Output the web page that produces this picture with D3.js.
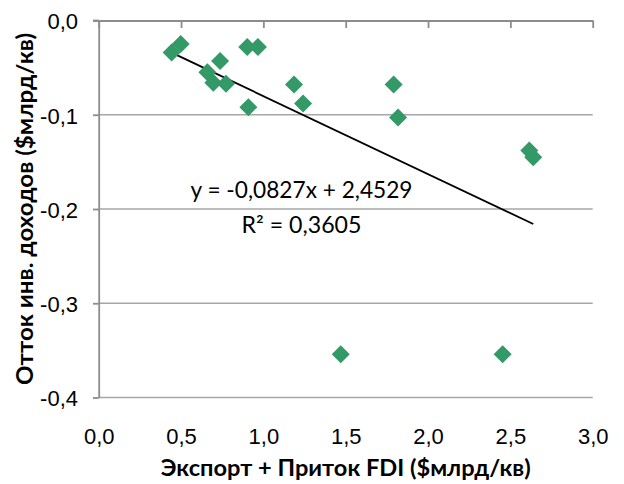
<!DOCTYPE html>
<html>
<head>
<meta charset="utf-8">
<script src="https://cdn.jsdelivr.net/npm/d3@7"></script>
<style>
  html, body { margin: 0; padding: 0; background: #fff; }
  svg { display: block; }
</style>
</head>
<body>
<svg id="chart" width="624" height="484"></svg>
<script>
// ---- data ----
const pointsX = [0.443, 0.498, 0.737, 0.660, 0.696, 0.773, 0.902, 0.967, 0.909, 1.186, 1.241, 1.791, 1.818, 2.615, 2.639, 1.470, 2.453];
const pointsY = [-0.034, -0.025, -0.043, -0.055, -0.066, -0.067, -0.028, -0.028, -0.092, -0.068, -0.088, -0.068, -0.103, -0.138, -0.145, -0.354, -0.354];
const xTicks = [0, 0.5, 1.0, 1.5, 2.0, 2.5, 3.0];
const yTicks = [0, -0.1, -0.2, -0.3, -0.4];
const trendSlope = -0.0828;
const trendIntercept = 0.0026;
const equationText = "y = -0,0827x + 2,4529";
const r2Text = "R² = 0,3605";
const xTitle = "Экспорт + Приток  FDI ($млрд/кв)";
const yTitle = "Отток инв.  доходов ($млрд/кв)";

// ---- layout ----
const svg = d3.select("#chart");
const x = d3.scaleLinear().domain([0, 3]).range([98.7, 592.7]);
const y = d3.scaleLinear().domain([0, -0.4]).range([20.5, 397.5]);

const loc = d3.formatLocale({decimal: ",", thousands: " ", grouping: [3], currency: ["", ""], minus: "-"});
const fmt = loc.format(".1f");

const gridColor = "#a6a6a6";
const axisColor = "#8c8c8c";
const tickFont = "'Liberation Sans', Arial, sans-serif";
const textFont = "Lato, 'Open Sans', sans-serif";

// horizontal gridlines (below 0)
svg.append("g")
  .selectAll("line")
  .data(yTicks.filter(d => d !== 0))
  .join("line")
  .attr("x1", x(0)).attr("x2", x(3))
  .attr("y1", d => y(d)).attr("y2", d => y(d))
  .attr("stroke", gridColor).attr("stroke-width", 1.6);

// x axis line at y = 0, ticks pointing into the plot
const xAxisTop = svg.append("g")
  .attr("transform", `translate(0,${y(0)})`)
  .call(d3.axisBottom(x).tickValues(xTicks).tickSizeInner(7.5).tickSizeOuter(0).tickFormat(""));
xAxisTop.select(".domain").attr("stroke", axisColor).attr("stroke-width", 1.8);
xAxisTop.selectAll(".tick line").attr("stroke", axisColor).attr("stroke-width", 1.8);
xAxisTop.append("line").attr("x1", x(0) - 5.7).attr("x2", x(0)).attr("y1", 0).attr("y2", 0)
  .attr("stroke", axisColor).attr("stroke-width", 1.8);

// y axis
const yAxis = svg.append("g")
  .attr("transform", `translate(${x(0)},0)`)
  .call(d3.axisLeft(y).tickValues(yTicks).tickSizeInner(5.7).tickSizeOuter(0).tickPadding(15).tickFormat(fmt));
yAxis.select(".domain").attr("stroke", axisColor).attr("stroke-width", 1.8);
yAxis.selectAll(".tick line").attr("stroke", axisColor).attr("stroke-width", 1.8);
yAxis.selectAll(".tick text")
  .attr("font-family", tickFont).attr("font-size", 22).attr("fill", "#000").attr("dy", "0.38em");

// x tick labels at the bottom
const xAxisBottom = svg.append("g")
  .attr("transform", `translate(0,${y(-0.4)})`)
  .call(d3.axisBottom(x).tickValues(xTicks).tickSize(0).tickPadding(31).tickFormat(fmt));
xAxisBottom.select(".domain").remove();
xAxisBottom.selectAll(".tick text")
  .attr("font-family", tickFont).attr("font-size", 22).attr("fill", "#000");

// trend line
const xExt = d3.extent(pointsX);
svg.append("line")
  .attr("x1", x(xExt[0])).attr("y1", y(trendSlope * xExt[0] + trendIntercept))
  .attr("x2", x(xExt[1])).attr("y2", y(trendSlope * xExt[1] + trendIntercept))
  .attr("stroke", "#000").attr("stroke-width", 1.8);

// points (diamonds)
const diamond = d3.symbol().type(d3.symbolSquare).size(162);
svg.append("g")
  .selectAll("path")
  .data(pointsX.map((v, i) => [v, pointsY[i]]))
  .join("path")
  .attr("d", diamond)
  .attr("transform", d => `translate(${x(d[0])},${y(d[1])}) rotate(45)`)
  .attr("fill", "#339966");

// trend equation text
svg.append("text")
  .attr("x", 190.5).attr("y", 198)
  .attr("font-family", textFont).attr("font-size", 22.5)
  .attr("textLength", 222).attr("lengthAdjust", "spacingAndGlyphs")
  .text(equationText);
svg.append("text")
  .attr("x", 241.5).attr("y", 233)
  .attr("font-family", textFont).attr("font-size", 22.5)
  .attr("textLength", 120).attr("lengthAdjust", "spacingAndGlyphs")
  .text(r2Text);

// axis titles
svg.append("text")
  .attr("x", (x(0) + x(3)) / 2).attr("y", 476)
  .attr("text-anchor", "middle")
  .attr("font-family", textFont).attr("font-size", 23).attr("font-weight", "bold")
  .attr("textLength", 370).attr("lengthAdjust", "spacingAndGlyphs")
  .text(xTitle);
svg.append("text")
  .attr("transform", `translate(33,${(y(0) + y(-0.4)) / 2}) rotate(-90)`)
  .attr("text-anchor", "middle")
  .attr("font-family", textFont).attr("font-size", 23).attr("font-weight", "bold")
  .attr("textLength", 352).attr("lengthAdjust", "spacingAndGlyphs")
  .text(yTitle);
</script>
</body>
</html>
